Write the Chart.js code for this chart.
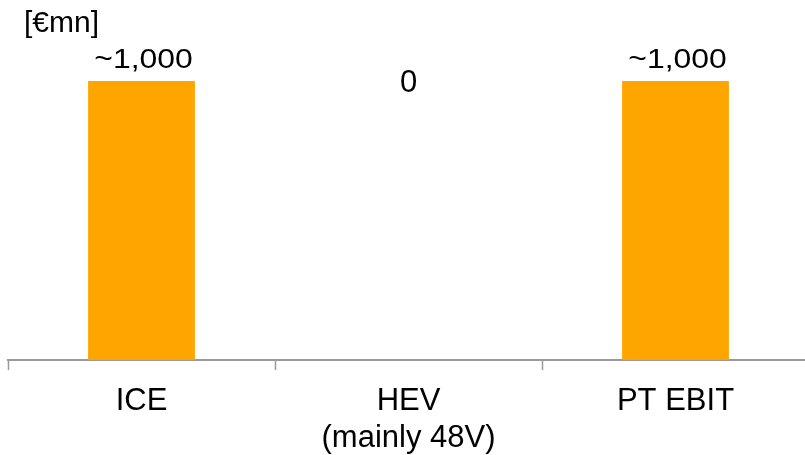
<!DOCTYPE html>
<html>
<head>
<meta charset="utf-8">
<script src="https://cdn.jsdelivr.net/npm/chart.js@4/dist/chart.umd.min.js"></script>
<style>
  html, body { margin: 0; padding: 0; background: #fff; overflow: hidden; }
  #wrap { position: relative; width: 809px; height: 455px; }
</style>
</head>
<body>
<div id="wrap"><canvas id="c" width="809" height="455"></canvas></div>
<script>
// Powertrain EBIT split, € millions
const categories = [["ICE"], ["HEV", "(mainly 48V)"], ["PT EBIT"]];
const values = [1000, 0, 1000];
const valueLabels = ["~1,000", "0", "~1,000"];
const unitLabel = "[€mn]";

const FONT = '"Liberation Sans", Arial, sans-serif';
const BAR_COLOR = "#FFA500";

const labelPlugin = {
  id: "valueLabels",
  afterDraw(chart) {
    const ctx = chart.ctx;
    const meta = chart.getDatasetMeta(0);
    const area = chart.chartArea;
    ctx.save();
    ctx.fillStyle = "#000";
    ctx.textAlign = "center";
    meta.data.forEach((bar, i) => {
      const v = values[i];
      if (v === 0) {
        ctx.font = "31px " + FONT;
        ctx.textBaseline = "middle";
        ctx.fillText(valueLabels[i], bar.x, area.top + 2);
      } else {
        ctx.font = "28px " + FONT;
        ctx.textBaseline = "alphabetic";
        ctx.save();
        ctx.translate(bar.x + 2, bar.y - 13);
        ctx.scale(1.14, 1);
        ctx.fillText(valueLabels[i], 0, 0);
        ctx.restore();
      }
    });
    // unit caption in the top-left corner
    ctx.font = "30px " + FONT;
    ctx.textAlign = "left";
    ctx.textBaseline = "alphabetic";
    ctx.fillText(unitLabel, 24, 32);
    ctx.restore();
  }
};

new Chart(document.getElementById("c"), {
  type: "bar",
  data: {
    labels: categories,
    datasets: [{
      data: values,
      backgroundColor: BAR_COLOR,
      borderWidth: 0,
      categoryPercentage: 1.0,
      barPercentage: 0.4
    }]
  },
  options: {
    responsive: false,
    animation: false,
    devicePixelRatio: 1,
    layout: { padding: { left: 8, top: 81, right: 0, bottom: 0 } },
    plugins: { legend: { display: false }, tooltip: { enabled: false } },
    scales: {
      x: {
        offset: true,
        afterFit(scale) { scale.height = 95; },
        grid: {
          offset: true,
          drawOnChartArea: false,
          drawTicks: true,
          tickLength: 10,
          tickWidth: 1.5,
          tickColor: "#9a9a9a"
        },
        border: { display: true, color: "#9a9a9a", width: 2 },
        ticks: {
          color: "#000",
          padding: 13,
          font: { family: FONT, size: 31, lineHeight: 1.2 },
          maxRotation: 0,
          autoSkip: false
        }
      },
      y: {
        display: false,
        min: 0,
        max: 1000
      }
    }
  },
  plugins: [labelPlugin]
});
</script>
</body>
</html>
